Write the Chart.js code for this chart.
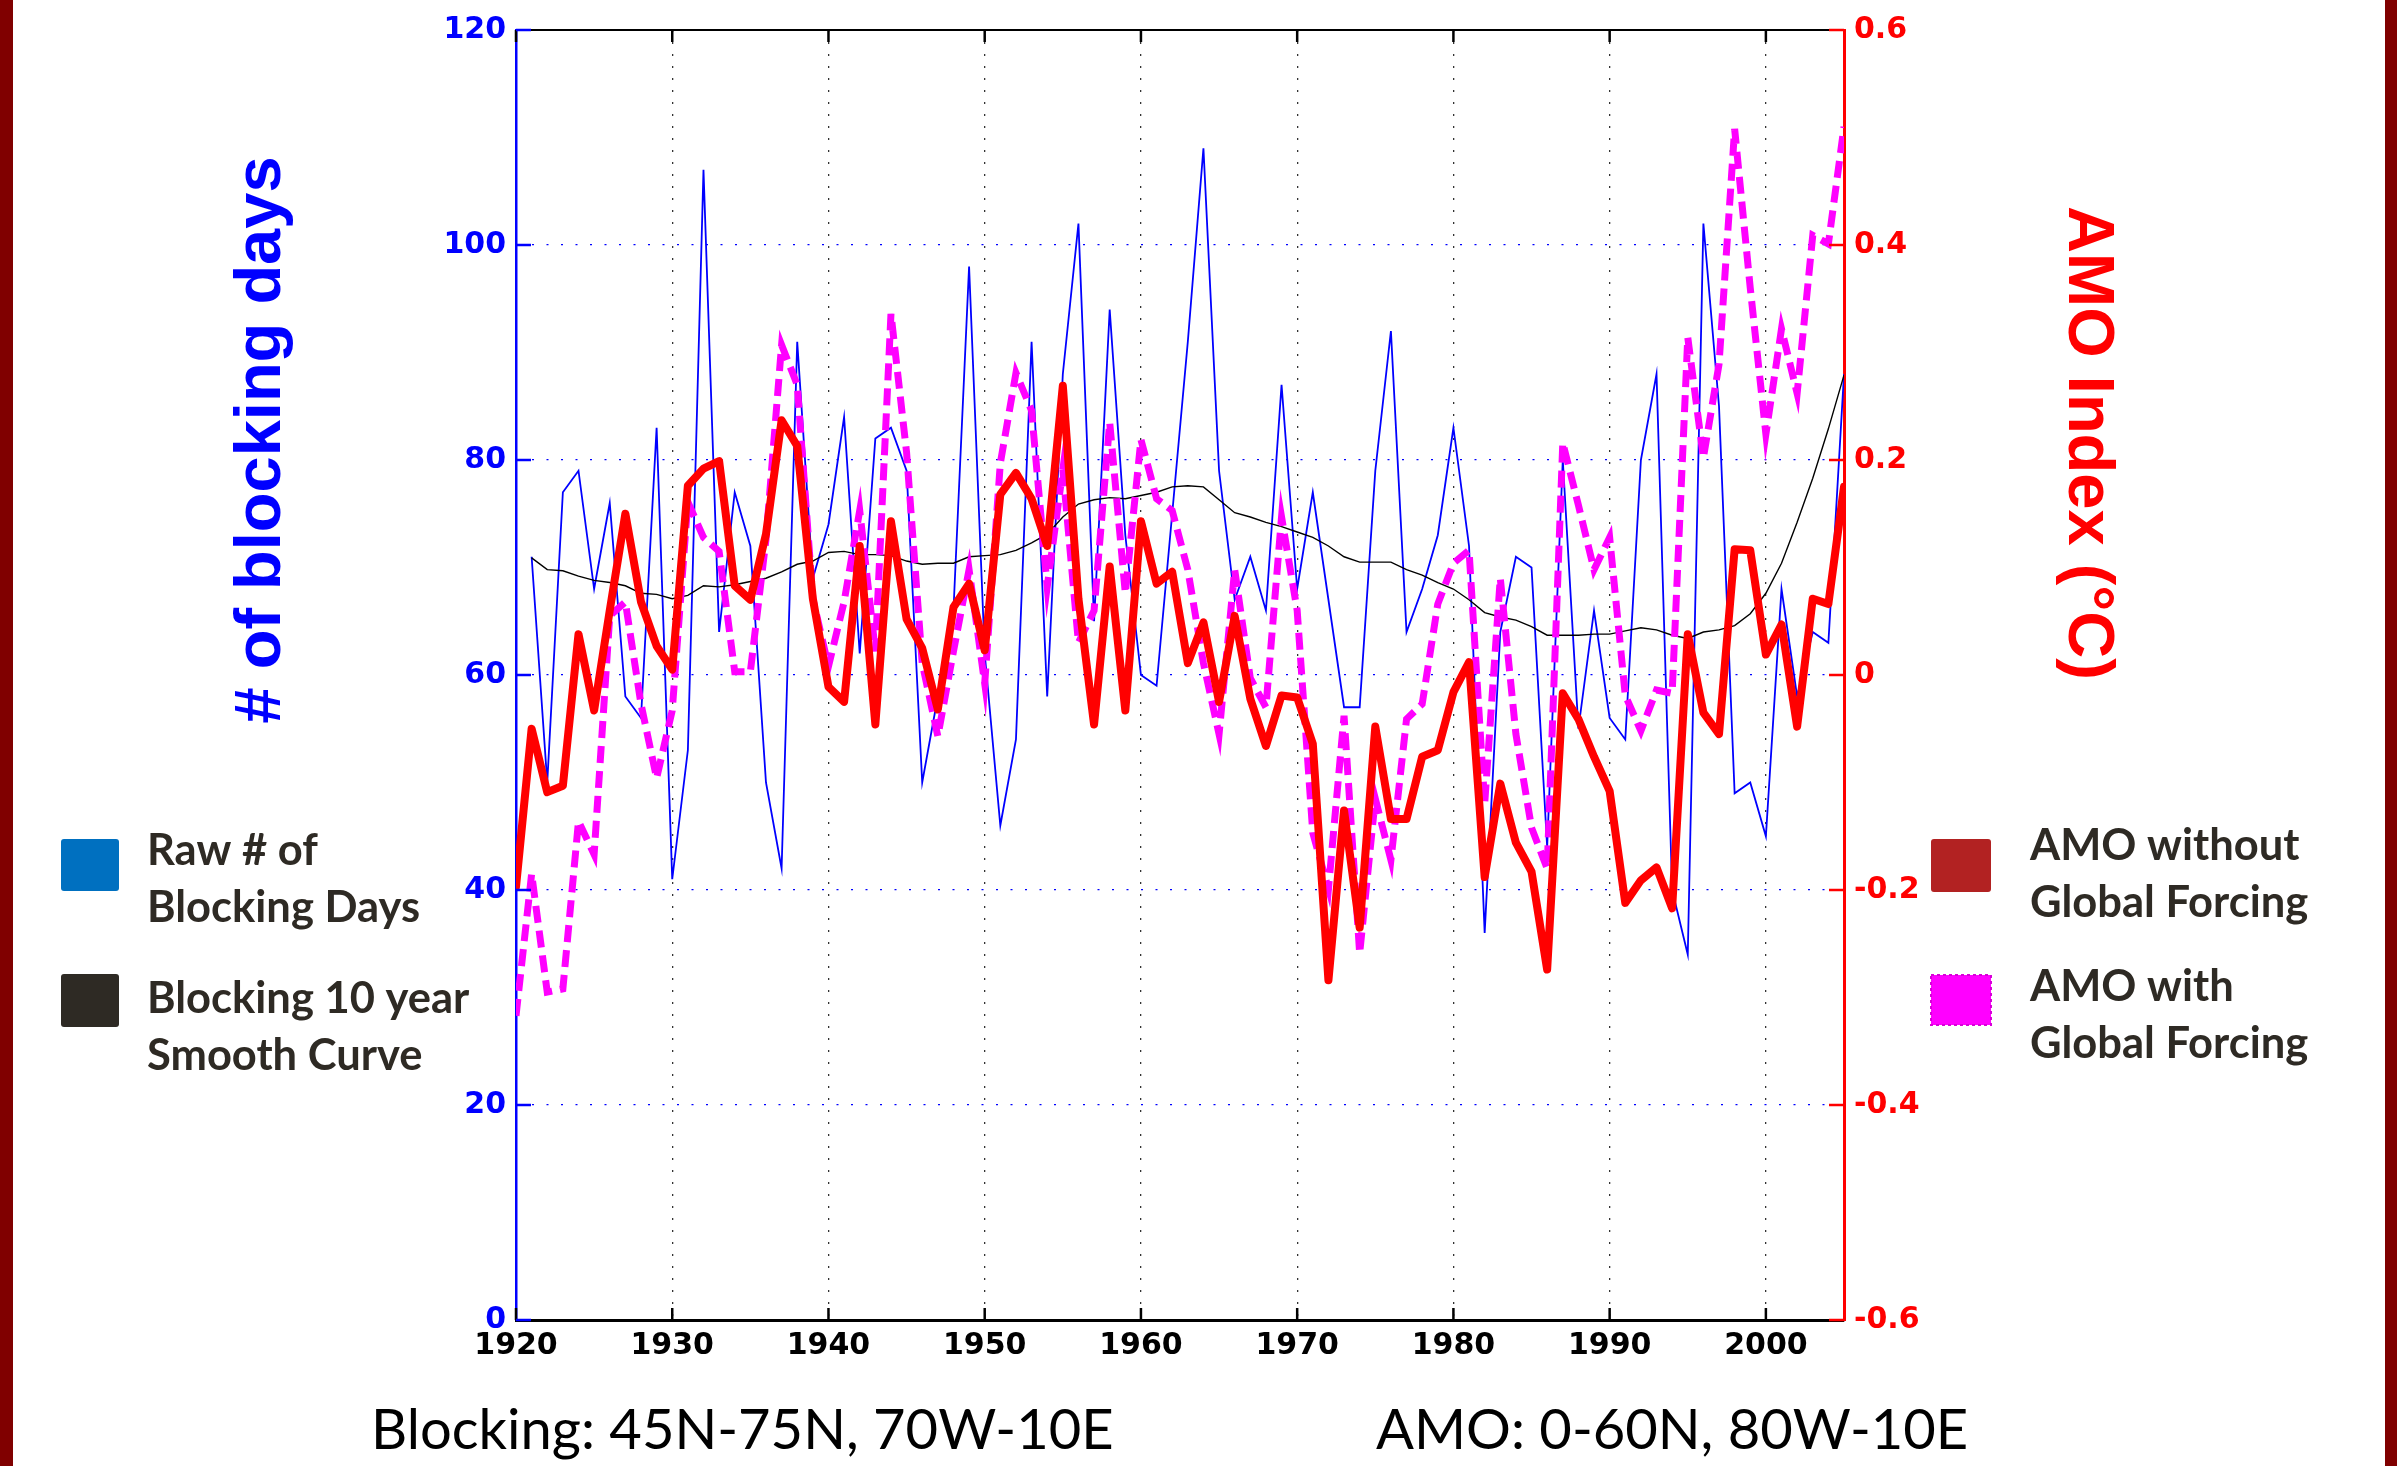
<!DOCTYPE html>
<html><head><meta charset="utf-8">
<script src="https://cdn.jsdelivr.net/npm/chart.js@4/dist/chart.umd.min.js"></script>
<style>html,body{margin:0;padding:0;background:#fff;overflow:hidden}canvas{display:block}</style>
</head><body>
<canvas id="c" width="2397" height="1466"></canvas>
<script>
const years = [1920,1921,1922,1923,1924,1925,1926,1927,1928,1929,
  1930,1931,1932,1933,1934,1935,1936,1937,1938,1939,
  1940,1941,1942,1943,1944,1945,1946,1947,1948,1949,
  1950,1951,1952,1953,1954,1955,1956,1957,1958,1959,
  1960,1961,1962,1963,1964,1965,1966,1967,1968,1969,
  1970,1971,1972,1973,1974,1975,1976,1977,1978,1979,
  1980,1981,1982,1983,1984,1985,1986,1987,1988,1989,
  1990,1991,1992,1993,1994,1995,1996,1997,1998,1999,
  2000,2001,2002,2003,2004,2005];

const blockingRaw = [null,71,50,77,79,68,76,58,56,83,
  41,53,107,64,77,72,50,42,91,69,
  74,84,62,82,83,79,50,58,66,98,
  62,46,54,91,58,88,102,65,94,73,
  60,59,75,91,109,79,67,71,66,87,
  68,77,67,57,57,79,92,64,68,73,
  83,72,36,64,71,70,44,80,55,66,
  56,54,80,88,40,34,102,85,49,50,
  45,68,58,64,63,88];

const blockingSmooth = [null,70.9,69.8,69.7,69.2,68.8,68.6,68.3,67.6,67.5,
  67.1,67.4,68.3,68.2,68.4,68.7,69.0,69.6,70.3,70.6,
  71.4,71.5,71.2,71.2,71.1,70.6,70.3,70.4,70.4,71.0,
  71.1,71.2,71.6,72.3,73.1,74.7,75.9,76.3,76.5,76.4,
  76.7,77.0,77.5,77.6,77.5,76.3,75.1,74.7,74.2,73.8,
  73.3,72.8,72.0,71.0,70.5,70.5,70.5,69.8,69.3,68.6,
  68.0,67.0,65.8,65.4,65.1,64.5,63.7,63.7,63.7,63.8,
  63.8,64.1,64.4,64.2,63.7,63.4,64.0,64.2,64.6,65.7,
  67.6,70.4,74.2,78.3,82.9,87.9];

const amoWithout = [-0.197,-0.050,-0.109,-0.103,0.038,-0.033,0.060,0.150,0.068,0.027,
  0.005,0.176,0.192,0.199,0.083,0.070,0.131,0.237,0.213,0.071,
  -0.011,-0.025,0.120,-0.046,0.143,0.052,0.025,-0.032,0.063,0.085,
  0.023,0.168,0.188,0.164,0.120,0.269,0.071,-0.046,0.101,-0.033,
  0.143,0.085,0.096,0.011,0.049,-0.025,0.055,-0.022,-0.066,-0.019,
  -0.021,-0.064,-0.284,-0.126,-0.235,-0.048,-0.134,-0.134,-0.076,-0.070,
  -0.016,0.012,-0.188,-0.101,-0.156,-0.183,-0.274,-0.017,-0.041,-0.076,
  -0.108,-0.212,-0.191,-0.179,-0.217,0.038,-0.035,-0.055,0.117,0.116,
  0.019,0.047,-0.048,0.071,0.066,0.175];

const amoWith = [-0.317,-0.185,-0.295,-0.292,-0.136,-0.167,0.055,0.068,-0.027,-0.096,
  -0.033,0.161,0.128,0.115,0.003,0.003,0.126,0.307,0.270,0.071,
  0.008,0.068,0.153,0.022,0.336,0.207,0.011,-0.057,0.022,0.098,
  -0.008,0.197,0.281,0.246,0.082,0.191,0.030,0.060,0.235,0.076,
  0.219,0.164,0.153,0.098,0.011,-0.055,0.098,-0.003,-0.030,0.147,
  0.060,-0.147,-0.199,-0.038,-0.259,-0.115,-0.172,-0.041,-0.027,0.066,
  0.104,0.116,-0.120,0.090,-0.055,-0.142,-0.180,0.216,0.158,0.098,
  0.128,-0.019,-0.052,-0.014,-0.017,0.314,0.202,0.289,0.508,0.360,
  0.224,0.322,0.262,0.409,0.401,0.510];

const leftAxisTitle = '# of blocking days';
const rightAxisTitle = 'AMO Index (°C)';
const leftLegend = [['Raw # of', 'Blocking Days'], ['Blocking 10 year', 'Smooth Curve']];
const rightLegend = [['AMO without', 'Global Forcing'], ['AMO with', 'Global Forcing']];
const captions = ['Blocking: 45N-75N, 70W-10E', 'AMO: 0-60N, 80W-10E'];

const W = 2397, H = 1466;
const PL = 516, PR = 1844, PT = 30, PB = 1320;
const tickFont = {family: 'DejaVu Sans', weight: 'bold', size: 30};
const pts = arr => years.map((y, i) => ({x: y, y: arr[i]}));

function fitSize(ctx, text, weight, family, target) {
  ctx.font = weight + ' 100px ' + family;
  return 100 * target / ctx.measureText(text).width;
}
function rrect(ctx, x, y, w, h, r) {
  ctx.beginPath();
  ctx.moveTo(x + r, y); ctx.lineTo(x + w - r, y); ctx.quadraticCurveTo(x + w, y, x + w, y + r);
  ctx.lineTo(x + w, y + h - r); ctx.quadraticCurveTo(x + w, y + h, x + w - r, y + h);
  ctx.lineTo(x + r, y + h); ctx.quadraticCurveTo(x, y + h, x, y + h - r);
  ctx.lineTo(x, y + r); ctx.quadraticCurveTo(x, y, x + r, y); ctx.closePath();
}

const decor = {
  id: 'decor',
  beforeDraw(chart) {
    const ctx = chart.ctx;
    ctx.save();
    ctx.fillStyle = '#ffffff'; ctx.fillRect(0, 0, W, H);
    ctx.fillStyle = '#800000';
    ctx.fillRect(0, 0, 13, H);
    ctx.fillRect(W - 12, 0, 12, H);
    ctx.restore();
  },
  afterDraw(chart) {
    const ctx = chart.ctx;
    const a = chart.chartArea;
    const sx = chart.scales.x, sl = chart.scales.yL, sr = chart.scales.yR;
    ctx.save();
    ctx.strokeStyle = '#000'; ctx.lineWidth = 2;
    ctx.beginPath(); ctx.moveTo(a.left, a.top); ctx.lineTo(a.right, a.top); ctx.stroke();
    ctx.lineWidth = 2.5;
    sx.ticks.forEach(t => {
      const x = sx.getPixelForValue(t.value);
      ctx.strokeStyle = '#000';
      ctx.beginPath(); ctx.moveTo(x, a.bottom); ctx.lineTo(x, a.bottom - 12); ctx.stroke();
      ctx.beginPath(); ctx.moveTo(x, a.top); ctx.lineTo(x, a.top + 12); ctx.stroke();
    });
    sl.ticks.forEach(t => {
      const y = sl.getPixelForValue(t.value);
      ctx.strokeStyle = '#0000ff';
      ctx.beginPath(); ctx.moveTo(a.left, y); ctx.lineTo(a.left + 15, y); ctx.stroke();
    });
    sr.ticks.forEach(t => {
      const y = sr.getPixelForValue(t.value);
      ctx.strokeStyle = '#ff0000';
      ctx.beginPath(); ctx.moveTo(a.right, y); ctx.lineTo(a.right - 15, y); ctx.stroke();
    });
    ctx.textAlign = 'center'; ctx.textBaseline = 'middle';
    ctx.font = 'bold 65px "Liberation Sans", Arial, sans-serif';
    ctx.fillStyle = '#0000ff';
    ctx.save(); ctx.translate(262, 440); ctx.rotate(-Math.PI / 2); ctx.fillText(leftAxisTitle, 0, 0); ctx.restore();
    ctx.fillStyle = '#ff0000';
    ctx.save(); ctx.translate(2087, 443); ctx.rotate(Math.PI / 2); ctx.fillText(rightAxisTitle, 0, 0); ctx.restore();

    const fam = 'Lato, "Open Sans", sans-serif';
    const lsize = fitSize(ctx, 'Blocking Days', 'bold', fam, 273);
    ctx.font = 'bold ' + lsize.toFixed(1) + 'px ' + fam;
    ctx.textAlign = 'left'; ctx.textBaseline = 'alphabetic';
    const ds = chart.data.datasets;
    ctx.fillStyle = '#0070c0'; rrect(ctx, 61, 839, 58, 52, 3); ctx.fill();
    ctx.fillStyle = '#2e2a24'; rrect(ctx, 61, 974, 58, 53, 3); ctx.fill();
    ctx.fillStyle = '#2e2a24';
    ctx.fillText(leftLegend[0][0], 147, 865);
    ctx.fillText(leftLegend[0][1], 147, 922);
    ctx.fillText(leftLegend[1][0], 147, 1013);
    ctx.fillText(leftLegend[1][1], 147, 1070);
    ctx.fillStyle = '#b22222'; rrect(ctx, 1931, 839, 60, 53, 3); ctx.fill();
    ctx.fillStyle = ds[2].borderColor; ctx.fillRect(1931, 975, 60, 50);
    ctx.strokeStyle = '#d800d8'; ctx.lineWidth = 2; ctx.setLineDash([3, 3]);
    ctx.strokeRect(1931, 975, 60, 50); ctx.setLineDash([]);
    ctx.fillStyle = '#2e2a24';
    ctx.fillText(rightLegend[0][0], 2030, 860);
    ctx.fillText(rightLegend[0][1], 2030, 917);
    ctx.fillText(rightLegend[1][0], 2030, 1001);
    ctx.fillText(rightLegend[1][1], 2030, 1058);
    const csize = fitSize(ctx, captions[0], 'normal', fam, 743);
    ctx.font = 'normal ' + csize.toFixed(1) + 'px ' + fam;
    ctx.fillStyle = '#000';
    ctx.fillText(captions[0], 371, 1449);
    ctx.fillText(captions[1], 1376, 1449);
    ctx.restore();
  }
};

const ctx = document.getElementById('c').getContext('2d');
new Chart(ctx, {
  type: 'line',
  data: {
    datasets: [
      {label: 'Raw # of Blocking Days', data: pts(blockingRaw), yAxisID: 'yL',
       borderColor: '#0000ff', borderWidth: 1.8, pointRadius: 0, tension: 0, order: 3, fill: false},
      {label: 'Blocking 10 year Smooth Curve', data: pts(blockingSmooth), yAxisID: 'yL',
       borderColor: '#000000', borderWidth: 1.4, pointRadius: 0, tension: 0, order: 2, fill: false},
      {label: 'AMO with Global Forcing', data: pts(amoWith), yAxisID: 'yR',
       borderColor: '#ff00ff', borderWidth: 7, borderDash: [17, 8], borderCapStyle: 'butt',
       pointRadius: 0, tension: 0, order: 1, fill: false},
      {label: 'AMO without Global Forcing', data: pts(amoWithout), yAxisID: 'yR',
       borderColor: '#ff0000', borderWidth: 8, borderJoinStyle: 'round', borderCapStyle: 'round',
       pointRadius: 0, tension: 0, order: 0, fill: false}
    ]
  },
  options: {
    responsive: false, animation: false, devicePixelRatio: 1,
    layout: {padding: {top: PT, left: 0, right: 0, bottom: 0}},
    plugins: {legend: {display: false}, tooltip: {enabled: false}},
    scales: {
      x: {
        type: 'linear', position: 'bottom', min: 1920, max: 2005,
        afterFit(s) { s.height = H - PB; },
        ticks: {stepSize: 10, includeBounds: false, autoSkip: false, maxRotation: 0, minRotation: 0,
                color: '#000', font: tickFont, padding: 8, callback: v => String(v)},
        grid: {color: '#333333', lineWidth: 1.3, drawTicks: false},
        border: {color: '#000', width: 3, dash: [2, 10]}
      },
      yL: {
        type: 'linear', position: 'left', min: 0, max: 120,
        afterFit(s) { s.width = PL; },
        ticks: {stepSize: 20, color: '#0000ff', font: tickFont, padding: 10},
        grid: {color: '#0000ff', lineWidth: 1.3, drawTicks: false},
        border: {color: '#0000ff', width: 2.5, dash: [2, 12.5]}
      },
      yR: {
        type: 'linear', position: 'right', min: -0.6, max: 0.6,
        afterFit(s) { s.width = W - PR; },
        ticks: {stepSize: 0.2, color: '#ff0000', font: tickFont, padding: 10,
                callback: v => Math.abs(v) < 1e-9 ? '0' : (Math.round(v * 10) / 10).toFixed(1)},
        grid: {drawOnChartArea: false, drawTicks: false},
        border: {color: '#ff0000', width: 3}
      }
    }
  },
  plugins: [decor]
});
</script>
</body></html>
